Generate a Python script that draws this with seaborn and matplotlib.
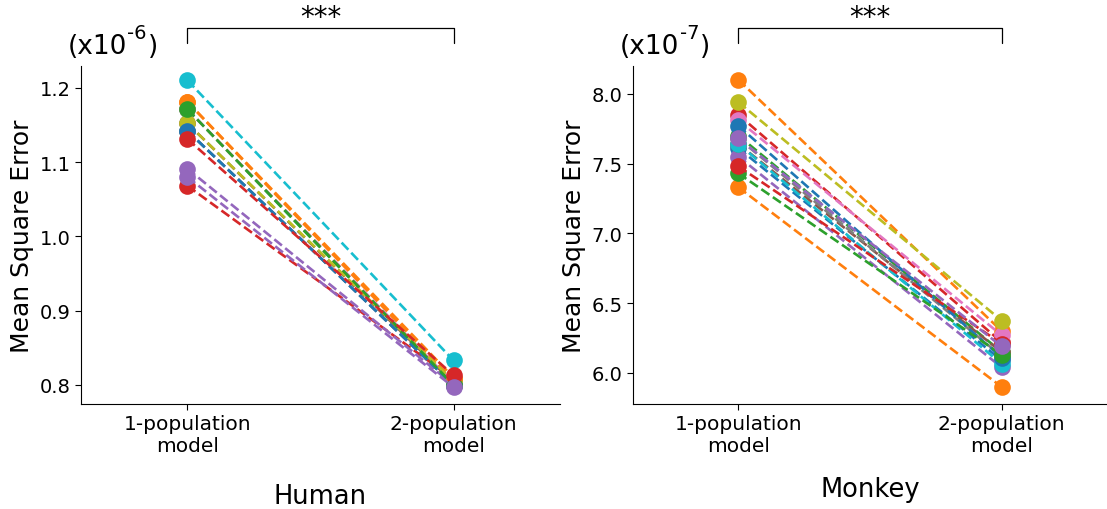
import numpy as np
import pandas as pd
import matplotlib
matplotlib.use('Agg')
import matplotlib.pyplot as plt
import seaborn as sns

# values (Human in 1e-6, Monkey in 1e-7)
models = ['1-population\nmodel', '2-population\nmodel']
human_one_pop = [1.142, 1.181, 1.171, 1.068, 1.091, 1.152, 1.171, 1.142,
                 1.152, 1.210, 1.142, 1.181, 1.171, 1.131, 1.080]
human_two_pop = [0.800, 0.805, 0.798, 0.808, 0.800, 0.803, 0.802, 0.800,
                 0.805, 0.833, 0.800, 0.810, 0.800, 0.813, 0.797]
monkey_one_pop = [7.61, 8.10, 7.70, 7.85, 7.55, 7.64, 7.81, 7.68,
                  7.94, 7.64, 7.77, 7.33, 7.43, 7.48, 7.68]
monkey_two_pop = [6.09, 6.30, 6.15, 6.22, 6.04, 6.15, 6.27, 6.12,
                  6.375, 6.065, 6.11, 5.90, 6.13, 6.21, 6.19]

sns.set_style('white')
plt.rcParams['font.family'] = ['DejaVu Sans']
plt.rcParams['text.color'] = 'black'
plt.rcParams['axes.labelcolor'] = 'black'
plt.rcParams['xtick.color'] = 'black'
plt.rcParams['ytick.color'] = 'black'


def to_long(one_pop, two_pop):
    rows = []
    for i, (a, b) in enumerate(zip(one_pop, two_pop)):
        rows.append({'subject': f's{i}', 'model': 0, 'mse': a})
        rows.append({'subject': f's{i}', 'model': 1, 'mse': b})
    return pd.DataFrame(rows)


def draw_panel(ax, one_pop, two_pop, yticks, ylim, exponent, xlabel, xpad):
    df = to_long(one_pop, two_pop)
    subjects = [f's{i}' for i in range(len(one_pop))]
    tab = sns.color_palette('tab10', 10)
    palette = [tab[i % 10] for i in range(len(subjects))]
    sns.lineplot(data=df, x='model', y='mse', hue='subject', hue_order=subjects,
                 palette=palette, linestyle='--', marker='o', markersize=12,
                 markeredgewidth=0, linewidth=1.9, legend=False, ax=ax)
    ax.set_xlim(-0.4, 1.4)
    ax.set_ylim(*ylim)
    ax.set_xticks([0, 1])
    ax.set_xticklabels(models, fontsize=14.5)
    ax.set_yticks(yticks)
    ax.tick_params(axis='y', labelsize=14)
    ax.tick_params(axis='both', length=4, width=0.8, color='black', bottom=True, left=True)
    ax.set_ylabel('Mean Square Error', fontsize=18)
    ax.set_xlabel(xlabel, fontsize=18.5, labelpad=xpad)
    sns.despine(ax=ax)
    for sp in ['left', 'bottom']:
        ax.spines[sp].set_color('black')
        ax.spines[sp].set_linewidth(0.8)

    # significance bracket
    tr = ax.get_xaxis_transform()
    ax.plot([0, 0, 1, 1], [1.068, 1.112, 1.112, 1.068], color='black',
            linewidth=0.9, transform=tr, clip_on=False)
    ax.text(0.5, 1.103, '***', transform=tr, ha='center', va='bottom', fontsize=20)

    # scale note: "(x10" + small raised "-N" + ")"
    fig = ax.figure
    base = ax.text(-0.027, 1.038, '(x10', transform=ax.transAxes,
                   ha='left', va='baseline', fontsize=19)
    fig.canvas.draw()
    bb = base.get_window_extent()
    to_pt = 72 / fig.dpi
    y0 = bb.y0 * to_pt
    sup = ax.annotate(str(exponent), xy=(0, 0), xycoords='figure points',
                      xytext=(bb.x1 * to_pt, y0 + 15), textcoords='figure points',
                      ha='left', va='baseline', fontsize=14)
    fig.canvas.draw()
    sb = sup.get_window_extent()
    ax.annotate(')', xy=(0, 0), xycoords='figure points',
                xytext=(sb.x1 * to_pt + 0.5, y0 + 4.5), textcoords='figure points',
                ha='left', va='baseline', fontsize=19)


fig = plt.figure(figsize=(11.07, 5.10), dpi=100)
ax1 = fig.add_axes([0.0732, 0.206, 0.4327, 0.663])
ax2 = fig.add_axes([0.5718, 0.206, 0.4282, 0.663])

draw_panel(ax1, human_one_pop, human_two_pop, [0.8, 0.9, 1.0, 1.1, 1.2],
           (0.7745, 1.2296), -6, 'Human', 20)
draw_panel(ax2, monkey_one_pop, monkey_two_pop, [6.0, 6.5, 7.0, 7.5, 8.0],
           (5.778, 8.2), -7, 'Monkey', 15)

fig.savefig('out.png', dpi=100)
